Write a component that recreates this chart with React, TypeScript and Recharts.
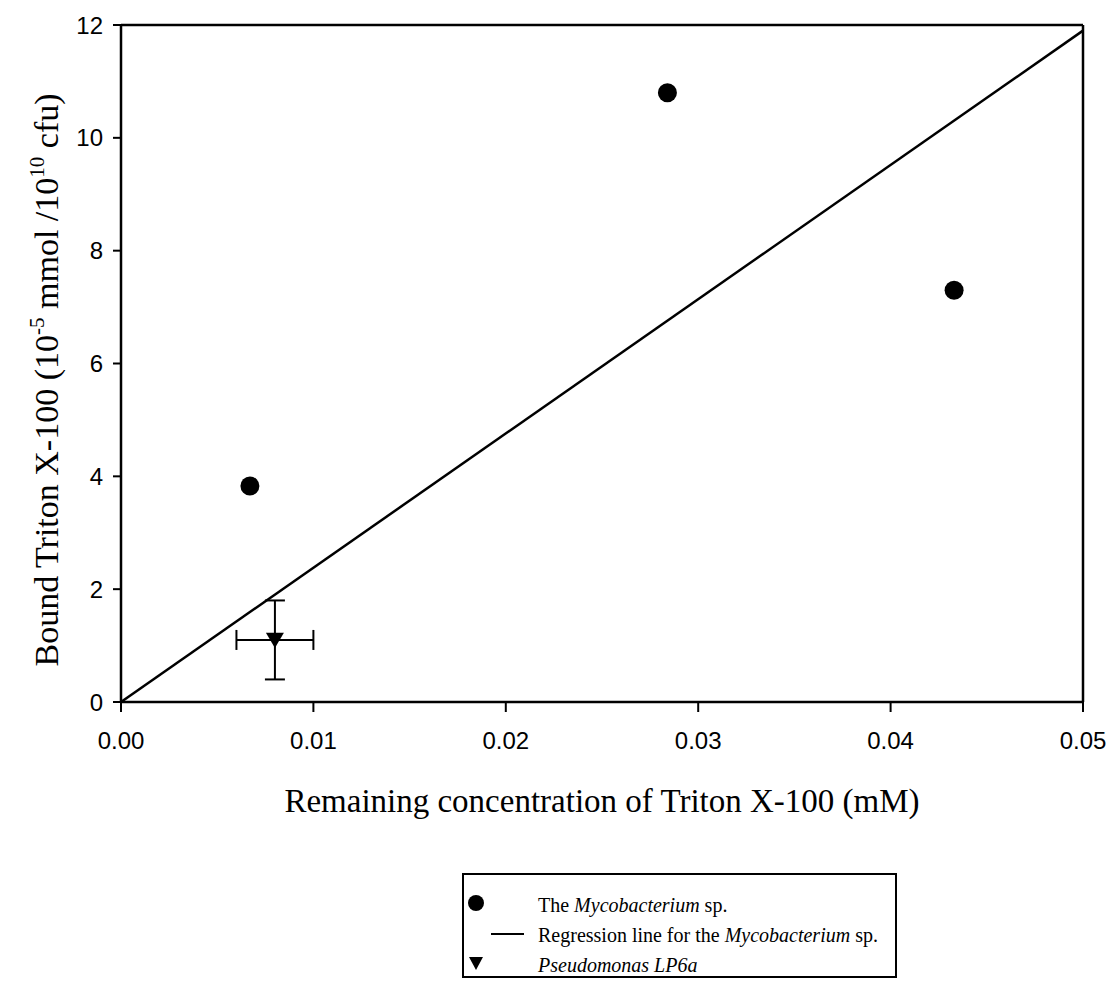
import React from 'react';
import { ScatterChart, Scatter, XAxis, YAxis, ErrorBar, ReferenceLine } from 'recharts';

const xTicks = [0, 0.01, 0.02, 0.03, 0.04, 0.05];
const yTicks = [0, 2, 4, 6, 8, 10, 12];

// Mycobacterium sp. measurements
const mycoX = [0.0067, 0.0284, 0.0433];
const mycoY = [3.83, 10.8, 7.3];

// regression line (through origin)
const regX = [0, 0.05];
const regY = [0, 11.9];

// Pseudomonas LP6a with error bars
const pseudoX = [0.008];
const pseudoY = [1.1];
const pseudoErrX = [0.002];
const pseudoErrY = [0.7];

const mycoData = mycoX.map((x, i) => ({ x, y: mycoY[i] }));
const regData = regX.map((x, i) => ({ x, y: regY[i] }));
const pseudoData = pseudoX.map((x, i) => ({ x, y: pseudoY[i], ex: pseudoErrX[i], ey: pseudoErrY[i] }));

const W = 1113;
const H = 1007;
const serif = '"Liberation Serif", "Times New Roman", serif';
const sans = '"Liberation Sans", Arial, sans-serif';

const DownTriangle = (props: any) => {
  const { cx, cy } = props;
  const s = 9;
  return <polygon points={`${cx - s},${cy - s * 0.8} ${cx + s},${cy - s * 0.8} ${cx},${cy + s * 0.9}`} fill="#000" />;
};

const Dot = (props: any) => <circle cx={props.cx} cy={props.cy} r={9.5} fill="#000" />;

const NoShape = () => <g />;

const XTitle = () => (
  <text x={602} y={812} textAnchor="middle" fontFamily={serif} fontSize={33} fill="#000">
    Remaining concentration of Triton X-100 (mM)
  </text>
);

const YTitle = () => (
  <text
    x={58}
    y={380}
    transform="rotate(-90, 58, 380)"
    textAnchor="middle"
    fontFamily={serif}
    fontSize={34}
    fill="#000"
  >
    Bound Triton X-100 (10
    <tspan dy={-14} fontSize={21}>-5</tspan>
    <tspan dy={14}> mmol /10</tspan>
    <tspan dy={-14} fontSize={21}>10</tspan>
    <tspan dy={14}> cfu)</tspan>
  </text>
);

const LegendBox = () => (
  <div
    style={{
      position: 'absolute',
      left: 462,
      top: 873,
      width: 435,
      height: 105,
      border: '2px solid #000',
      boxSizing: 'border-box',
      fontFamily: serif,
      fontSize: 20,
      color: '#000',
    }}
  >
    <svg width={431} height={101} style={{ position: 'absolute', left: 0, top: 0 }}>
      <circle cx={12} cy={28} r={8} fill="#000" />
      <line x1={27} x2={60} y1={59} y2={59} stroke="#000" strokeWidth={2} />
      <polygon points="5,82 19,82 12,95" fill="#000" />
    </svg>
    <div style={{ position: 'absolute', left: 74, top: 15, lineHeight: '30px', whiteSpace: 'nowrap' }}>
      <div>The <i>Mycobacterium</i> sp.</div>
      <div>Regression line for the <i>Mycobacterium</i> sp.</div>
      <div><i>Pseudomonas LP6a</i></div>
    </div>
  </div>
);

export default function App() {
  const yAxisW = 80;
  const xAxisH = 60;
  return (
    <div style={{ position: 'absolute', left: 0, top: 0, width: W, height: H, background: '#fff' }}>
      <ScatterChart
        width={W}
        height={H}
        margin={{ top: 25, right: 30, left: 121 - yAxisW, bottom: H - 702 - xAxisH }}
      >
        <XAxis
          dataKey="x"
          type="number"
          domain={[0, 0.05]}
          ticks={xTicks}
          allowDataOverflow
          height={xAxisH}
          tickFormatter={(v: number) => v.toFixed(2)}
          tick={{ fontFamily: sans, fontSize: 24, fill: '#000' }}
          tickSize={10}
          tickMargin={20}
          axisLine={{ stroke: '#000', strokeWidth: 2.5 }}
          tickLine={{ stroke: '#000', strokeWidth: 2 }}
        />
        <YAxis
          dataKey="y"
          type="number"
          domain={[0, 12]}
          ticks={yTicks}
          allowDataOverflow
          width={yAxisW}
          tick={{ fontFamily: sans, fontSize: 24, fill: '#000' }}
          tickSize={8}
          tickMargin={10}
          axisLine={{ stroke: '#000', strokeWidth: 2.5 }}
          tickLine={{ stroke: '#000', strokeWidth: 2 }}
        />
        <ReferenceLine y={12} stroke="#000" strokeWidth={2.5} />
        <ReferenceLine x={0.05} stroke="#000" strokeWidth={2.5} />
        <Scatter
          data={regData}
          line={{ stroke: '#000', strokeWidth: 2.5 }}
          shape={NoShape}
          isAnimationActive={false}
        />
        <Scatter data={mycoData} shape={Dot} isAnimationActive={false} />
        <Scatter data={pseudoData} shape={DownTriangle} isAnimationActive={false}>
          <ErrorBar dataKey="ex" direction="x" width={10} stroke="#000" strokeWidth={2} />
          <ErrorBar dataKey="ey" direction="y" width={10} stroke="#000" strokeWidth={2} />
        </Scatter>
        <XTitle />
        <YTitle />
      </ScatterChart>
      <LegendBox />
    </div>
  );
}
